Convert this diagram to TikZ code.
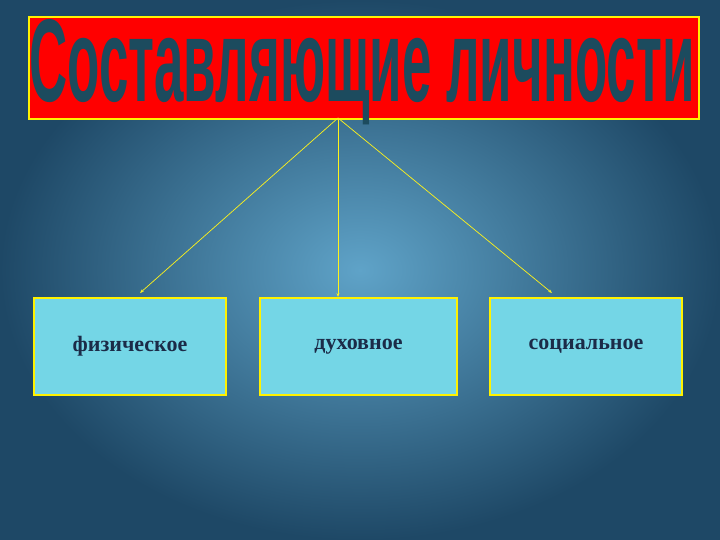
\documentclass[tikz,border=0pt]{standalone}
\usepackage{fontspec}
\setmainfont{Liberation Serif}
\newfontfamily\titlefont{Liberation Sans}
\usetikzlibrary{arrows.meta}
\definecolor{bgin}{HTML}{5FA3C8}
\definecolor{bgout}{HTML}{1E4866}
\definecolor{boxfill}{HTML}{74D6E6}
\definecolor{txt}{HTML}{1B2B48}
\definecolor{ttl}{HTML}{1C4B5E}
\tikzset{
  leaf/.style={draw=yellow, line width=2pt, fill=boxfill, minimum height=97pt, anchor=north west, text=txt, font=\bfseries\fontsize{22}{26}\selectfont},
  conn/.style={draw=yellow!90!white, line width=0.7pt, -{Stealth[length=4pt,width=3pt]}}
}
\begin{document}
\begin{tikzpicture}[x=1pt,y=-1pt]
\useasboundingbox (0,0) rectangle (720,540);
\shade[inner color=bgin, outer color=bgout] (0,0) rectangle (720,540);
\node[draw=yellow, line width=2pt, fill=red, minimum width=670pt, minimum height=102pt, anchor=north west, inner sep=0pt] (title) at (28,16) {};
\node[text=ttl, inner sep=0pt] (tt) at (362,72) {\resizebox{665pt}{82pt}{\titlefont\bfseries Составляющие личности}};
\node[leaf, minimum width=192pt] (a) at (33,297) {\raisebox{4pt}{физическое}};
\node[leaf, minimum width=197pt] (b) at (259,297) {\raisebox{-6pt}{духовное}};
\node[leaf, minimum width=192pt] (c) at (489,297) {\raisebox{4pt}{социальное}};
\coordinate (o) at (338,118);
\coordinate (ea) at (140,293);
\coordinate (eb) at (338,297);
\coordinate (ec) at (552,293);
\draw[conn] (o) -- (ea);
\draw[conn] (o) -- (eb);
\draw[conn] (o) -- (ec);
\end{tikzpicture}
\end{document}
